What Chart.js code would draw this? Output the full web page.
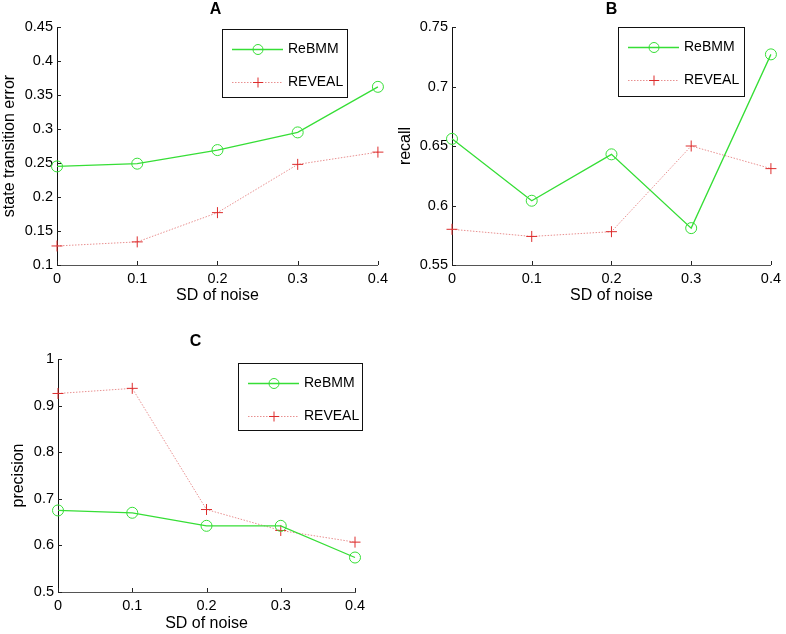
<!DOCTYPE html>
<html>
<head>
<meta charset="utf-8">
<script src="https://cdn.jsdelivr.net/npm/chart.js@4"></script>
<style>
  body{margin:0;background:#fff;}
  #wrap{position:relative;width:786px;height:634px;}
  .panel{position:absolute;}
</style>
</head>
<body>
<div id="wrap">
  <div class="panel" style="left:0;top:0;width:393px;height:315px;"><canvas id="chartA"></canvas></div>
  <div class="panel" style="left:393px;top:0;width:393px;height:315px;"><canvas id="chartB"></canvas></div>
  <div class="panel" style="left:0;top:315px;width:393px;height:319px;"><canvas id="chartC"></canvas></div>
</div>
<script>
const noiseLevels = ["0", "0.1", "0.2", "0.3", "0.4"];

// A - state transition error
const errReBMM  = [0.245, 0.249, 0.269, 0.295, 0.362];
const errREVEAL = [0.128, 0.134, 0.177, 0.248, 0.266];
const errTicks  = [0.1, 0.15, 0.2, 0.25, 0.3, 0.35, 0.4, 0.45];

// B - recall
const recReBMM  = [0.656, 0.604, 0.643, 0.581, 0.727];
const recREVEAL = [0.580, 0.574, 0.578, 0.650, 0.631];
const recTicks  = [0.55, 0.6, 0.65, 0.7, 0.75];

// C - precision
const preReBMM  = [0.675, 0.670, 0.642, 0.642, 0.574];
const preREVEAL = [0.926, 0.937, 0.677, 0.632, 0.607];
const preTicks  = [0.5, 0.6, 0.7, 0.8, 0.9, 1];

const FONT = "'Liberation Sans', Arial, Helvetica, sans-serif";
const GREEN = "#36de36";
const RED = "#dd2c2c";

/* ---- plugin: panel letter, inward ticks, boxed legend ---- */
const matlabLook = {
  id: "matlabLook",
  afterDraw(chart, args, opts){
    const ctx = chart.ctx;
    const a = chart.chartArea;
    const xs = chart.scales.x, ys = chart.scales.y;
    ctx.save();

    // inward ticks
    ctx.strokeStyle = "#222";
    ctx.lineWidth = 1;
    ctx.beginPath();
    ys.ticks.forEach(t=>{
      const y = Math.round(ys.getPixelForValue(t.value)) + 0.5;
      ctx.moveTo(a.left, y); ctx.lineTo(a.left + 4, y);
    });
    xs.ticks.forEach((t,i)=>{
      const x = Math.round(xs.getPixelForValue(i)) + 0.5;
      ctx.moveTo(x, a.bottom); ctx.lineTo(x, a.bottom - 4);
    });
    ctx.stroke();

    // title letter
    ctx.fillStyle = "#000";
    ctx.font = "bold 16px " + FONT;
    ctx.textAlign = "center";
    ctx.textBaseline = "middle";
    ctx.fillText(opts.title, (a.left + a.right)/2 + (opts.titleDx || 0), a.top - 17);

    // legend
    const L = opts.legend;
    ctx.fillStyle = "#fff";
    ctx.fillRect(L.x, L.y, L.w, L.h);
    ctx.strokeStyle = "#111";
    ctx.strokeRect(L.x + 0.5, L.y + 0.5, L.w, L.h);
    chart.data.datasets.forEach((ds,i)=>{
      const y = L.y + 20 + i*33 + 0.5;
      ctx.strokeStyle = ds.borderColor;
      ctx.lineWidth = ds.borderWidth;
      ctx.setLineDash(ds.borderDash || []);
      ctx.beginPath();
      ctx.moveTo(L.x + 10, y); ctx.lineTo(L.x + 61, y);
      ctx.stroke();
      ctx.setLineDash([]);
      ctx.lineWidth = 1;
      ctx.strokeStyle = ds.pointBorderColor;
      const cx = L.x + 36;
      ctx.beginPath();
      if(ds.pointStyle === "circle"){
        ctx.arc(cx, y, 5, 0, Math.PI*2);
      }else{
        ctx.moveTo(cx - 5, y); ctx.lineTo(cx + 5, y);
        ctx.moveTo(cx, y - 5); ctx.lineTo(cx, y + 5);
      }
      ctx.stroke();
      ctx.fillStyle = "#000";
      ctx.font = "14px " + FONT;
      ctx.textAlign = "left";
      ctx.textBaseline = "middle";
      ctx.fillText(ds.label, L.x + 66, y);
    });
    ctx.restore();
  }
};

function makeDatasets(rebmm, reveal){
  return [
    {
      label:"ReBMM", data:rebmm,
      borderColor:GREEN, borderWidth:1.3,
      pointStyle:"circle", pointRadius:5.5, pointBorderColor:GREEN,
      pointBackgroundColor:"rgba(0,0,0,0)", pointBorderWidth:1,
      tension:0
    },
    {
      label:"REVEAL", data:reveal,
      borderColor:"#e89090", borderWidth:1, borderDash:[1.5,1.5],
      pointStyle:"cross", pointRadius:5.5, pointBorderColor:RED,
      pointBorderWidth:1, tension:0
    }
  ];
}

function buildPanel(id, rebmm, reveal, ticks, yLabel, look){
  const yMin = ticks[0], yMax = ticks[ticks.length-1];
  return new Chart(document.getElementById(id), {
    type:"line",
    data:{ labels:noiseLevels, datasets:makeDatasets(rebmm, reveal) },
    options:{
      responsive:true,
      maintainAspectRatio:false,
      animation:false,
      layout:{ padding:look.padding },
      plugins:{
        legend:{display:false},
        tooltip:{enabled:false},
        matlabLook:look
      },
      scales:{
        x:{
          type:"category",
          offset:false,
          grid:{display:false, drawTicks:false},
          border:{display:true, color:"#555", width:1},
          ticks:{color:"#000", font:{family:FONT, size:14.5}, padding:5, maxRotation:0, autoSkip:false},
          title:{display:true, text:"SD of noise", color:"#000", font:{family:FONT, size:16}, padding:0},
          afterFit:s=>{ s.height = look.xh; }
        },
        y:{
          min:yMin, max:yMax,
          grid:{display:false, drawTicks:false},
          border:{display:true, color:"#111", width:1},
          afterBuildTicks:s=>{ s.ticks = ticks.map(v=>({value:v})); },
          ticks:{color:"#000", font:{family:FONT, size:14.5}, padding:4, callback:v=>String(v)},
          title:{display:true, text:yLabel, color:"#000", font:{family:FONT, size:16}, padding:look.yTitlePad},
          afterFit:s=>{ s.width = look.yw; }
        }
      }
    },
    plugins:[matlabLook]
  });
}

buildPanel("chartA", errReBMM, errREVEAL, errTicks, "state transition error", {
  title:"A", titleDx:-2,
  padding:{left:0, top:27, right:14, bottom:10},
  xh:40, yw:57, yTitlePad:{top:0, bottom:0},
  legend:{x:222, y:29, w:125, h:68}
});

buildPanel("chartB", recReBMM, recREVEAL, recTicks, "recall", {
  title:"B", titleDx:0,
  padding:{left:0, top:27, right:13, bottom:10},
  xh:40, yw:59, yTitlePad:{top:3, bottom:0},
  legend:{x:225, y:27, w:126, h:69}
});

buildPanel("chartC", preReBMM, preREVEAL, preTicks, "precision", {
  title:"C", titleDx:-11,
  padding:{left:0, top:44, right:38, bottom:1},
  xh:41, yw:58, yTitlePad:{top:9, bottom:0},
  legend:{x:238, y:48, w:124, h:67}
});
</script>
</body>
</html>
